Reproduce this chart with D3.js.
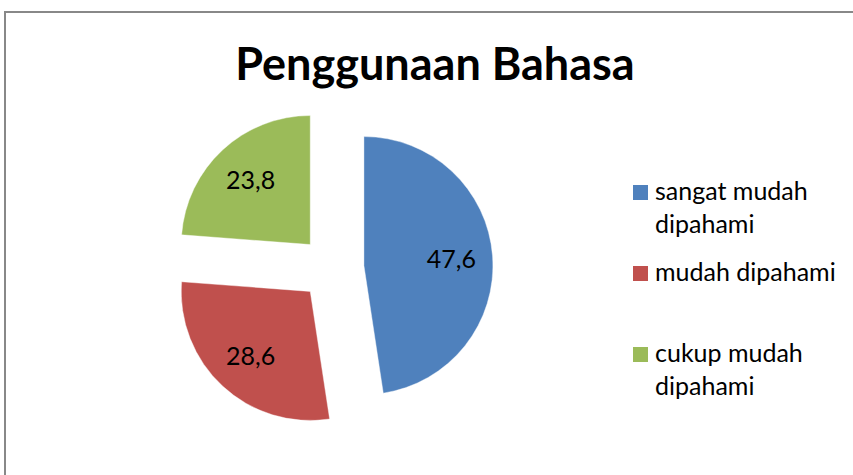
<!DOCTYPE html>
<html>
<head>
<meta charset="utf-8">
<script src="https://cdn.jsdelivr.net/npm/d3@7"></script>
<style>
  body { margin: 0; background: #fff; }
  svg { display: block; font-family: Lato, "Open Sans", sans-serif; }
</style>
</head>
<body>
<svg id="chart" width="853" height="475"></svg>
<script>
// data
const categories = ["sangat mudah dipahami", "mudah dipahami", "cukup mudah dipahami"];
const values = [47.6, 28.6, 23.8];
const legendLines = [["sangat mudah", "dipahami"], ["mudah dipahami"], ["cukup mudah", "dipahami"]];
const colors = ["#4F81BD", "#C0504D", "#9BBB59"];
const title = "Penggunaan Bahasa";

const width = 853, height = 475;
const cx = 332, cy = 268, radius = 129, explode = 32;

const svg = d3.select("#chart");

// chart frame (runs off the right and bottom edge)
svg.append("rect")
  .attr("x", 5).attr("y", 12)
  .attr("width", 900).attr("height", 500)
  .attr("fill", "#fff")
  .attr("stroke", "#888")
  .attr("stroke-width", 2);

svg.append("text")
  .attr("x", 435).attr("y", 80)
  .attr("text-anchor", "middle")
  .attr("font-weight", "bold")
  .attr("font-size", "45px")
  .attr("fill", "#000")
  .text(title);

let color = d3.scaleOrdinal().domain(categories).range(colors);

let pie = d3.pie().sort(null).value(d => d.value);
let arcs = pie(categories.map((c, i) => ({ name: c, value: values[i] })));

let arc = d3.arc().innerRadius(0).outerRadius(radius);
let labelArc = d3.arc().innerRadius(radius * 0.68).outerRadius(radius * 0.68);

let slices = svg.selectAll(".slice")
  .data(arcs)
  .enter()
  .append("g")
  .attr("class", "slice")
  .attr("transform", d => {
    let mid = (d.startAngle + d.endAngle) / 2;
    return "translate(" + (cx + explode * Math.sin(mid)) + "," + (cy - explode * Math.cos(mid)) + ")";
  });

slices.append("path")
  .attr("d", arc)
  .attr("fill", d => color(d.data.name))
  .attr("stroke", "rgba(255,255,255,0.5)")
  .attr("stroke-width", 0.8);

slices.append("text")
  .attr("transform", d => "translate(" + labelArc.centroid(d) + ")")
  .attr("text-anchor", "middle")
  .attr("dy", "0.35em")
  .attr("font-size", "25px")
  .attr("fill", "#000")
  .text(d => String(d.data.value).replace(".", ","));

// legend
let legendY = d3.scalePoint().domain(categories).range([185, 347]);

let legend = svg.selectAll(".legend")
  .data(categories)
  .enter()
  .append("g")
  .attr("class", "legend")
  .attr("transform", d => "translate(633," + legendY(d) + ")");

legend.append("rect")
  .attr("width", 15).attr("height", 15)
  .attr("fill", d => color(d));

legend.append("text")
  .attr("x", 22)
  .attr("y", 15)
  .attr("font-size", "25px")
  .attr("fill", "#000")
  .selectAll("tspan")
  .data((d, i) => legendLines[i])
  .enter()
  .append("tspan")
  .attr("x", 22)
  .attr("dy", (d, i) => i === 0 ? 0 : 33)
  .text(d => d);
</script>
</body>
</html>
